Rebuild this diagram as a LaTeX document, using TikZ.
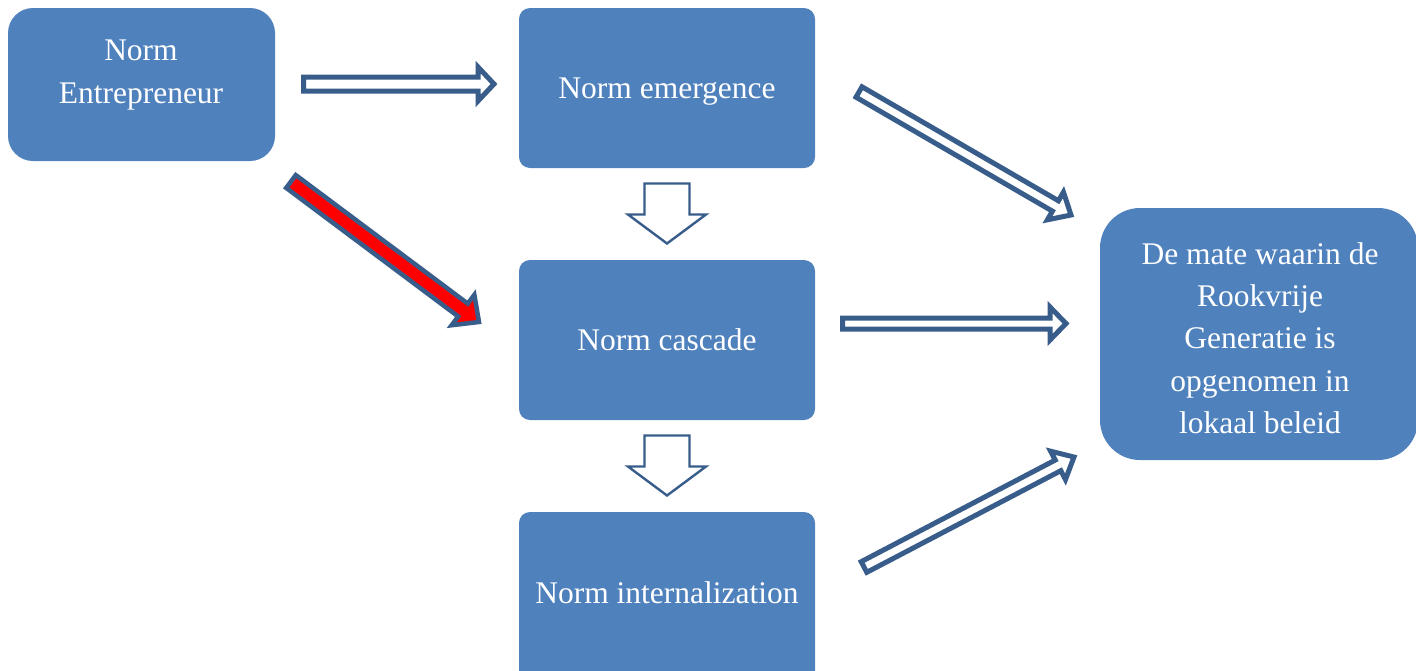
\documentclass[tikz,border=0pt]{standalone}
\usepackage{fontspec}
\setmainfont{Liberation Serif}
\usetikzlibrary{calc}
\definecolor{boxblue}{HTML}{4F81BD}
\definecolor{arrblue}{HTML}{385D8A}
% #1 style, #2 tail, #3 tip, #4 shaft half width, #5 head half width, #6 head length
\newcommand\blockarr[6]{%
  \path[#1] let \p1=($(#3)-(#2)$), \n1={atan2(\y1,\x1)}, \n2={veclen(\x1,\y1)} in
    [shift={(#2)}, rotate=\n1]
    (0,-#4) -- (\n2-#6,-#4) -- (\n2-#6,-#5) -- (\n2,0) -- (\n2-#6,#5) -- (\n2-#6,#4) -- (0,#4) -- cycle;}
\tikzset{
  box/.style={fill=boxblue, inner sep=0pt},
  boxtext/.style={text=white, align=center, font=\fontsize{31.5}{42.3}\selectfont, inner sep=0pt},
  hollow/.style={draw=arrblue, line width=5pt, fill=white, line join=miter},
  redarr/.style={draw=arrblue, line width=4.5pt, fill=red, line join=miter},
  thinarr/.style={draw=arrblue, line width=2.4pt, fill=white, line join=miter},
}
\begin{document}
\begin{tikzpicture}[x=1pt,y=-1pt]
\clip (0,0) rectangle (1416,670);
\fill[white] (0,0) rectangle (1416,670);
% boxes
\node[box, rounded corners=25pt, minimum width=267pt, minimum height=153pt] (ent) at (141.5,84.5) {};
\node[boxtext] (entt) at (141,75) {Norm\\Entrepreneur};
\node[box, rounded corners=11pt, minimum width=296pt, minimum height=160pt] (emg) at (667,88) {};
\node[boxtext] (emgt) at (667,92) {Norm emergence};
\node[box, rounded corners=11pt, minimum width=296pt, minimum height=160pt] (cas) at (667,340) {};
\node[boxtext] (cast) at (667,340) {Norm cascade};
\node[box, rounded corners=11pt, minimum width=296pt, minimum height=170pt] (int) at (667,597) {};
\node[boxtext] (intt) at (667,593) {Norm internalization};
\node[box, rounded corners=40pt, minimum width=318pt, minimum height=252pt] (res) at (1259,334) {};
\node[boxtext] (rest) at (1260,338)
  {De mate waarin de\\Rookvrije\\Generatie is\\opgenomen in\\lokaal beleid};
% arrow end points
\coordinate (a1s) at (303.5,84);  \coordinate (a1e) at (494,84);
\coordinate (r1s) at (291,181.5); \coordinate (r1e) at (479,322);
\coordinate (d1s) at (667,183.5); \coordinate (d1e) at (667,243.5);
\coordinate (d2s) at (667,435.5); \coordinate (d2e) at (667,495.5);
\coordinate (b1s) at (859,92);    \coordinate (b1e) at (1071,215);
\coordinate (b2s) at (842.5,323.5); \coordinate (b2e) at (1066,323.5);
\coordinate (b3s) at (864,567);   \coordinate (b3e) at (1074,457);
% arrows
\blockarr{hollow}{a1s}{a1e}{7}{17}{16}
\blockarr{redarr}{r1s}{r1e}{8}{19}{20}
\blockarr{thinarr}{d1s}{d1e}{22.5}{39}{29}
\blockarr{thinarr}{d2s}{d2e}{22.5}{39}{29}
\blockarr{hollow}{b1s}{b1e}{6}{16}{18}
\blockarr{hollow}{b2s}{b2e}{5.5}{16.5}{16}
\blockarr{hollow}{b3s}{b3e}{6}{16}{18}
\end{tikzpicture}
\end{document}
